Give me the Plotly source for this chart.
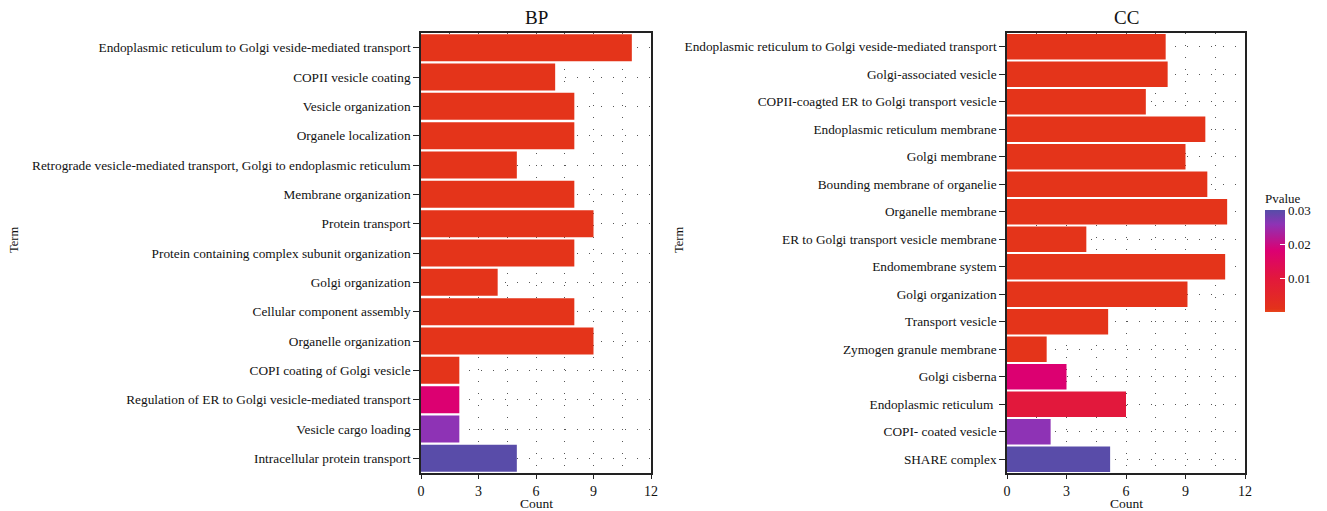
import plotly.graph_objects as go

bp_terms = [
    "Endoplasmic reticulum to Golgi veside-mediated transport",
    "COPII vesicle coating",
    "Vesicle organization",
    "Organele localization",
    "Retrograde vesicle-mediated transport, Golgi to endoplasmic reticulum",
    "Membrane organization",
    "Protein transport",
    "Protein containing complex subunit organization",
    "Golgi organization",
    "Cellular component assembly",
    "Organelle organization",
    "COPI coating of Golgi vesicle",
    "Regulation of ER to Golgi vesicle-mediated transport",
    "Vesicle cargo loading",
    "Intracellular protein transport",
]
bp_count = [11, 7, 8, 8, 5, 8, 9, 8, 4, 8, 9, 2, 2, 2, 5]
bp_pvalue = [0.0008, 0.0008, 0.0008, 0.0008, 0.0008, 0.0008, 0.0008, 0.0008,
             0.0008, 0.0008, 0.0008, 0.0008, 0.018, 0.026, 0.030]

cc_terms = [
    "Endoplasmic reticulum to Golgi veside-mediated transport",
    "Golgi-associated vesicle",
    "COPII-coagted ER to Golgi transport vesicle",
    "Endoplasmic reticulum membrane",
    "Golgi membrane",
    "Bounding membrane of organelie",
    "Organelle membrane",
    "ER to Golgi transport vesicle membrane",
    "Endomembrane system",
    "Golgi organization",
    "Transport vesicle",
    "Zymogen granule membrane",
    "Golgi cisberna",
    "Endoplasmic reticulum ",
    "COPI- coated vesicle",
    "SHARE complex",
]
cc_count = [8, 8.1, 7, 10, 9, 10.1, 11.1, 4, 11, 9.1, 5.1, 2, 3, 6, 2.2, 5.2]
cc_pvalue = [0.0008, 0.0008, 0.0008, 0.0008, 0.0008, 0.0008, 0.0008, 0.0008,
             0.0008, 0.0008, 0.0008, 0.0008, 0.018, 0.010, 0.026, 0.030]

x_ticks = [0, 3, 6, 9, 12]
p_ticks = [0.01, 0.02, 0.03]

# The page body has an 8px default margin, so the figure is drawn 8px
# right/down; size it and place things in page-pixel terms.
OFF = 8
W, H = 1327 - OFF, 511 - OFF
FONT = "Liberation Serif"


def fx(px):
    return (px - OFF) / W


def fy(py):
    return 1 - (py - OFF) / H


fig = go.Figure()
fig.add_trace(go.Bar(x=bp_count, y=bp_terms, orientation="h", xaxis="x", yaxis="y",
                     marker=dict(color=bp_pvalue, coloraxis="coloraxis", line=dict(width=0)),
                     showlegend=False))
fig.add_trace(go.Bar(x=cc_count, y=cc_terms, orientation="h", xaxis="x2", yaxis="y2",
                     marker=dict(color=cc_pvalue, coloraxis="coloraxis", line=dict(width=0)),
                     showlegend=False))

top, bottom = 33, 473
ydom = [fy(bottom), fy(top)]


def xax(dom):
    return dict(domain=dom, range=[0, 12], tickvals=x_ticks, ticktext=[str(v) for v in x_ticks],
                showline=True, mirror=True, linecolor="#222", linewidth=1.5,
                ticks="outside", ticklen=4, tickcolor="#222",
                showgrid=True, gridcolor="#555", gridwidth=1, griddash="1px,11px",
                minor=dict(dtick=1.5, showgrid=True, gridcolor="#555", gridwidth=1, griddash="1px,11px"),
                zeroline=False, tickfont=dict(size=14, color="#111"), fixedrange=True,
                automargin=False)


def yax(anchor):
    return dict(domain=ydom, anchor=anchor, autorange="reversed",
                showline=True, mirror=True, linecolor="#222", linewidth=1.5,
                ticks="outside", ticklen=6, tickcolor="#222",
                showgrid=True, gridcolor="#555", gridwidth=1, griddash="1px,11px",
                tickfont=dict(size=13.3, color="#111"), fixedrange=True,
                automargin=False)


def note(text, px, py, size, angle=0):
    return dict(text=text, x=fx(px), y=fy(py), xref="paper", yref="paper", showarrow=False,
                xanchor="center", yanchor="middle", textangle=angle, font=dict(size=size))


fig.update_layout(
    width=W, height=H,
    margin=dict(l=0, r=0, t=0, b=0, autoexpand=False),
    paper_bgcolor="white", plot_bgcolor="white",
    font=dict(family=FONT, color="#111"),
    bargap=0.08,
    xaxis=dict(xax([fx(421), fx(651)]), anchor="y"),
    yaxis=yax("x"),
    xaxis2=dict(xax([fx(1007), fx(1245)]), anchor="y2"),
    yaxis2=yax("x2"),
    coloraxis=dict(
        cmin=0, cmax=0.0302,
        colorscale=[[0.0, "#E8461C"], [0.03, "#E3321A"], [0.33, "#E2183C"], [0.6, "#DC0072"],
                    [0.86, "#8E33B5"], [1.0, "#564DA8"]],
        colorbar=dict(
            title=dict(text="Pvalue", side="top", font=dict(size=13)),
            tickvals=p_ticks, ticktext=["0.01", "0.02", "0.03"],
            ticks="inside", ticklen=5, tickcolor="white",
            thickness=20, thicknessmode="pixels",
            len=122, lenmode="pixels",
            x=fx(1265), xanchor="left", y=fy(251), yanchor="middle",
            outlinewidth=0, tickfont=dict(size=13), ypad=0, xpad=0,
        ),
    ),
    annotations=[
        note("BP", 536, 17, 19),
        note("CC", 1126, 17, 19),
        note("Count", 536, 503, 13.5),
        note("Count", 1126, 503, 13.5),
        note("Term", 14, 240, 12.5, -90),
        note("Term", 679, 240, 12.5, -90),
    ],
)

fig.write_html("out.html")
